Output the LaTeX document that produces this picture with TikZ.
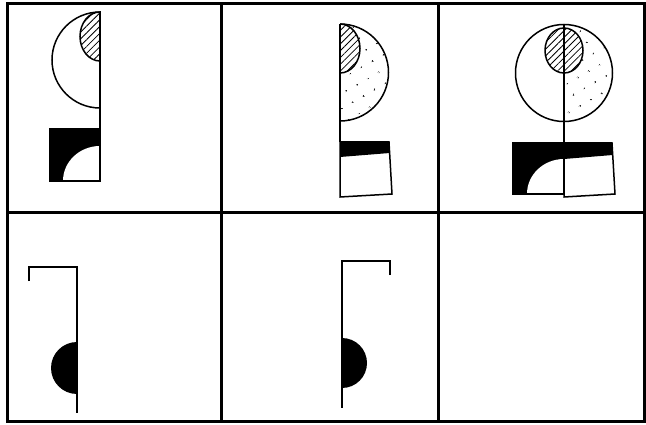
\documentclass[tikz,border=0pt]{standalone}
\usetikzlibrary{patterns.meta}
\begin{document}
\begin{tikzpicture}[x=1pt,y=-1pt,
  frame/.style={line width=3pt},
  shp/.style={line width=1.5pt, line join=miter},
  hatch/.style={pattern={Lines[angle=45,distance=4.8pt,line width=0.8pt]}},
  stip/.style={pattern={Dots[angle=30,distance=13pt,radius=0.9pt]}}]
\useasboundingbox (0,0) rectangle (646,425);
% grid
\draw[frame] (7.5,4) rectangle (644,421.5);
\draw[frame] (7.5,213) -- (644,213);
\draw[frame] (221.5,4) -- (221.5,421.5);
\draw[frame] (438,4) -- (438,421.5);

% ---------- panel 1 ----------
\coordinate (p1t) at (100,12);
\coordinate (p1b) at (100,129);
\draw[shp] (p1t) arc[start angle=270,end angle=90,radius=48];
\filldraw[shp,fill=white] (p1t) arc[start angle=270,end angle=90,x radius=20,y radius=24.5] -- cycle;
\fill[hatch] (p1t) arc[start angle=270,end angle=90,x radius=20,y radius=24.5] -- cycle;
\draw[shp] (p1t) -- (p1b);
\fill[black] (50,129) rectangle (100,181);
\fill[white] (100,181) -- (63,181) arc[start angle=180,end angle=270,x radius=37,y radius=35] -- cycle;
\draw[shp] (50,129) rectangle (100,181);

% ---------- panel 2 ----------
\coordinate (p2t) at (340,24);
\fill[stip] (p2t) arc[start angle=270,end angle=450,radius=48.5] -- cycle;
\fill[white] (p2t) arc[start angle=270,end angle=450,x radius=20,y radius=24.5] -- cycle;
\fill[hatch] (p2t) arc[start angle=270,end angle=450,x radius=20,y radius=24.5] -- cycle;
\draw[shp] (p2t) arc[start angle=270,end angle=450,x radius=20,y radius=24.5];
\draw[shp] (p2t) arc[start angle=270,end angle=450,radius=48.5];
\draw[shp] (p2t) -- (340,142);
\fill[black] (340,142) -- (389,142) -- (389.7,153) -- (340,157) -- cycle;
\draw[shp] (340,142) -- (389,142) -- (392,194) -- (340,197) -- cycle;

% ---------- panel 3 ----------
\coordinate (p3t) at (564,24.5);
\fill[stip] (p3t) arc[start angle=270,end angle=450,radius=48.5] -- cycle;
\filldraw[shp,fill=white] (564,50.5) ellipse[x radius=19,y radius=22.5];
\fill[hatch] (564,50.5) ellipse[x radius=19,y radius=22.5];
\draw[shp] (564,73) circle[radius=48.5];
\draw[shp] (p3t) -- (564,143);
\fill[black] (513,143) rectangle (564,194);
\fill[white] (564,194) -- (527,194) arc[start angle=180,end angle=270,x radius=37,y radius=35] -- cycle;
\draw[shp] (513,143) rectangle (564,194);
\fill[black] (564,143) -- (612,143) -- (612.7,155) -- (564,159) -- cycle;
\draw[shp] (564,143) -- (612,143) -- (615,194) -- (564,197) -- cycle;

% ---------- panel 4 ----------
\coordinate (p4a) at (29,281);
\coordinate (p4b) at (29,267);
\coordinate (p4c) at (77,267);
\coordinate (p4d) at (77,413);
\fill[black] (77,342) arc[start angle=270,end angle=90,radius=26] -- cycle;
\draw[shp] (p4a) -- (p4b) -- (p4c) -- (p4d);

% ---------- panel 5 ----------
\coordinate (p5a) at (390,275);
\coordinate (p5b) at (390,261);
\coordinate (p5c) at (342,261);
\coordinate (p5d) at (342,408);
\fill[black] (342,338) arc[start angle=270,end angle=450,radius=25] -- cycle;
\draw[shp] (p5a) -- (p5b) -- (p5c) -- (p5d);
\end{tikzpicture}
\end{document}
